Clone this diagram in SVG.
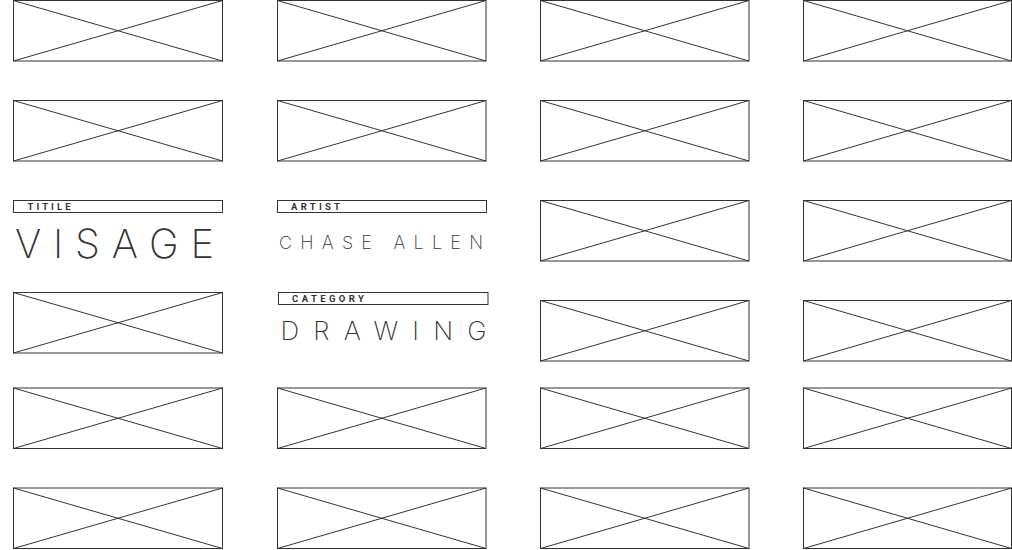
<svg xmlns="http://www.w3.org/2000/svg" width="1012" height="550" viewBox="0 0 1012 550">
<style>
.ph rect{fill:#fff;stroke:#333;stroke-width:1}
.ph line{stroke:#333;stroke-width:1}
.bar{fill:#fff;stroke:#333;stroke-width:1}
.lbl{font-family:Roboto,"DejaVu Sans",sans-serif;font-weight:700;font-size:9.5px;fill:#333}
.big{font-family:Inter,"Liberation Sans",sans-serif;font-weight:200;fill:#333}
</style>
<rect width="1012" height="550" fill="#fff"/>
<g id="nodes">
<g id="p-r1c1" class="ph"><rect x="13.5" y="0.5" width="209" height="60.5"/><line x1="13.5" y1="0.5" x2="222.5" y2="61"/><line x1="13.5" y1="61" x2="222.5" y2="0.5"/></g>
<g id="p-r1c2" class="ph"><rect x="277.5" y="0.5" width="208.5" height="60.5"/><line x1="277.5" y1="0.5" x2="486" y2="61"/><line x1="277.5" y1="61" x2="486" y2="0.5"/></g>
<g id="p-r1c3" class="ph"><rect x="540.5" y="0.5" width="208.5" height="60.5"/><line x1="540.5" y1="0.5" x2="749" y2="61"/><line x1="540.5" y1="61" x2="749" y2="0.5"/></g>
<g id="p-r1c4" class="ph"><rect x="803.5" y="0.5" width="208" height="60.5"/><line x1="803.5" y1="0.5" x2="1011.5" y2="61"/><line x1="803.5" y1="61" x2="1011.5" y2="0.5"/></g>

<g id="p-r2c1" class="ph"><rect x="13.5" y="100.5" width="209" height="60.5"/><line x1="13.5" y1="100.5" x2="222.5" y2="161"/><line x1="13.5" y1="161" x2="222.5" y2="100.5"/></g>
<g id="p-r2c2" class="ph"><rect x="277.5" y="100.5" width="208.5" height="60.5"/><line x1="277.5" y1="100.5" x2="486" y2="161"/><line x1="277.5" y1="161" x2="486" y2="100.5"/></g>
<g id="p-r2c3" class="ph"><rect x="540.5" y="100.5" width="208.5" height="60.5"/><line x1="540.5" y1="100.5" x2="749" y2="161"/><line x1="540.5" y1="161" x2="749" y2="100.5"/></g>
<g id="p-r2c4" class="ph"><rect x="803.5" y="100.5" width="208" height="60.5"/><line x1="803.5" y1="100.5" x2="1011.5" y2="161"/><line x1="803.5" y1="161" x2="1011.5" y2="100.5"/></g>

<g id="title-field">
<rect class="bar" x="13.5" y="200.5" width="209" height="12"/>
<text class="lbl" x="27.5" y="209.8" textLength="43" lengthAdjust="spacing">TITILE</text>
<text class="big" x="15" y="257.5" font-size="40" textLength="199" lengthAdjust="spacing">VISAGE</text>
</g>
<g id="artist-field">
<rect class="bar" x="277.5" y="200.5" width="209" height="12"/>
<text class="lbl" x="291" y="209.8" textLength="49" lengthAdjust="spacing">ARTIST</text>
<text class="big" x="279" y="248.5" font-size="18" textLength="204" lengthAdjust="spacing">CHASE ALLEN</text>
</g>
<g id="p-r3c3" class="ph"><rect x="540.5" y="200.5" width="208.5" height="60.5"/><line x1="540.5" y1="200.5" x2="749" y2="261"/><line x1="540.5" y1="261" x2="749" y2="200.5"/></g>
<g id="p-r3c4" class="ph"><rect x="803.5" y="200.5" width="208" height="60.5"/><line x1="803.5" y1="200.5" x2="1011.5" y2="261"/><line x1="803.5" y1="261" x2="1011.5" y2="200.5"/></g>

<g id="p-r4c1" class="ph"><rect x="13.5" y="292.5" width="209" height="60.5"/><line x1="13.5" y1="292.5" x2="222.5" y2="353"/><line x1="13.5" y1="353" x2="222.5" y2="292.5"/></g>
<g id="category-field">
<rect class="bar" x="278.5" y="292.5" width="209.5" height="12"/>
<text class="lbl" x="292" y="302.3" textLength="72" lengthAdjust="spacing">CATEGORY</text>
<text class="big" x="280.5" y="340" font-size="26" textLength="206" lengthAdjust="spacing">DRAWING</text>
</g>
<g id="p-r4c3" class="ph"><rect x="540.5" y="300.5" width="208.5" height="60.5"/><line x1="540.5" y1="300.5" x2="749" y2="361"/><line x1="540.5" y1="361" x2="749" y2="300.5"/></g>
<g id="p-r4c4" class="ph"><rect x="803.5" y="300.5" width="208" height="60.5"/><line x1="803.5" y1="300.5" x2="1011.5" y2="361"/><line x1="803.5" y1="361" x2="1011.5" y2="300.5"/></g>

<g id="p-r5c1" class="ph"><rect x="13.5" y="388" width="209" height="60.5"/><line x1="13.5" y1="388" x2="222.5" y2="448.5"/><line x1="13.5" y1="448.5" x2="222.5" y2="388"/></g>
<g id="p-r5c2" class="ph"><rect x="277.5" y="388" width="208.5" height="60.5"/><line x1="277.5" y1="388" x2="486" y2="448.5"/><line x1="277.5" y1="448.5" x2="486" y2="388"/></g>
<g id="p-r5c3" class="ph"><rect x="540.5" y="388" width="208.5" height="60.5"/><line x1="540.5" y1="388" x2="749" y2="448.5"/><line x1="540.5" y1="448.5" x2="749" y2="388"/></g>
<g id="p-r5c4" class="ph"><rect x="803.5" y="388" width="208" height="60.5"/><line x1="803.5" y1="388" x2="1011.5" y2="448.5"/><line x1="803.5" y1="448.5" x2="1011.5" y2="388"/></g>

<g id="p-r6c1" class="ph"><rect x="13.5" y="488" width="209" height="60.5"/><line x1="13.5" y1="488" x2="222.5" y2="548.5"/><line x1="13.5" y1="548.5" x2="222.5" y2="488"/></g>
<g id="p-r6c2" class="ph"><rect x="277.5" y="488" width="208.5" height="60.5"/><line x1="277.5" y1="488" x2="486" y2="548.5"/><line x1="277.5" y1="548.5" x2="486" y2="488"/></g>
<g id="p-r6c3" class="ph"><rect x="540.5" y="488" width="208.5" height="60.5"/><line x1="540.5" y1="488" x2="749" y2="548.5"/><line x1="540.5" y1="548.5" x2="749" y2="488"/></g>
<g id="p-r6c4" class="ph"><rect x="803.5" y="488" width="208" height="60.5"/><line x1="803.5" y1="488" x2="1011.5" y2="548.5"/><line x1="803.5" y1="548.5" x2="1011.5" y2="488"/></g>
</g>
<g id="connectors"/>
</svg>
